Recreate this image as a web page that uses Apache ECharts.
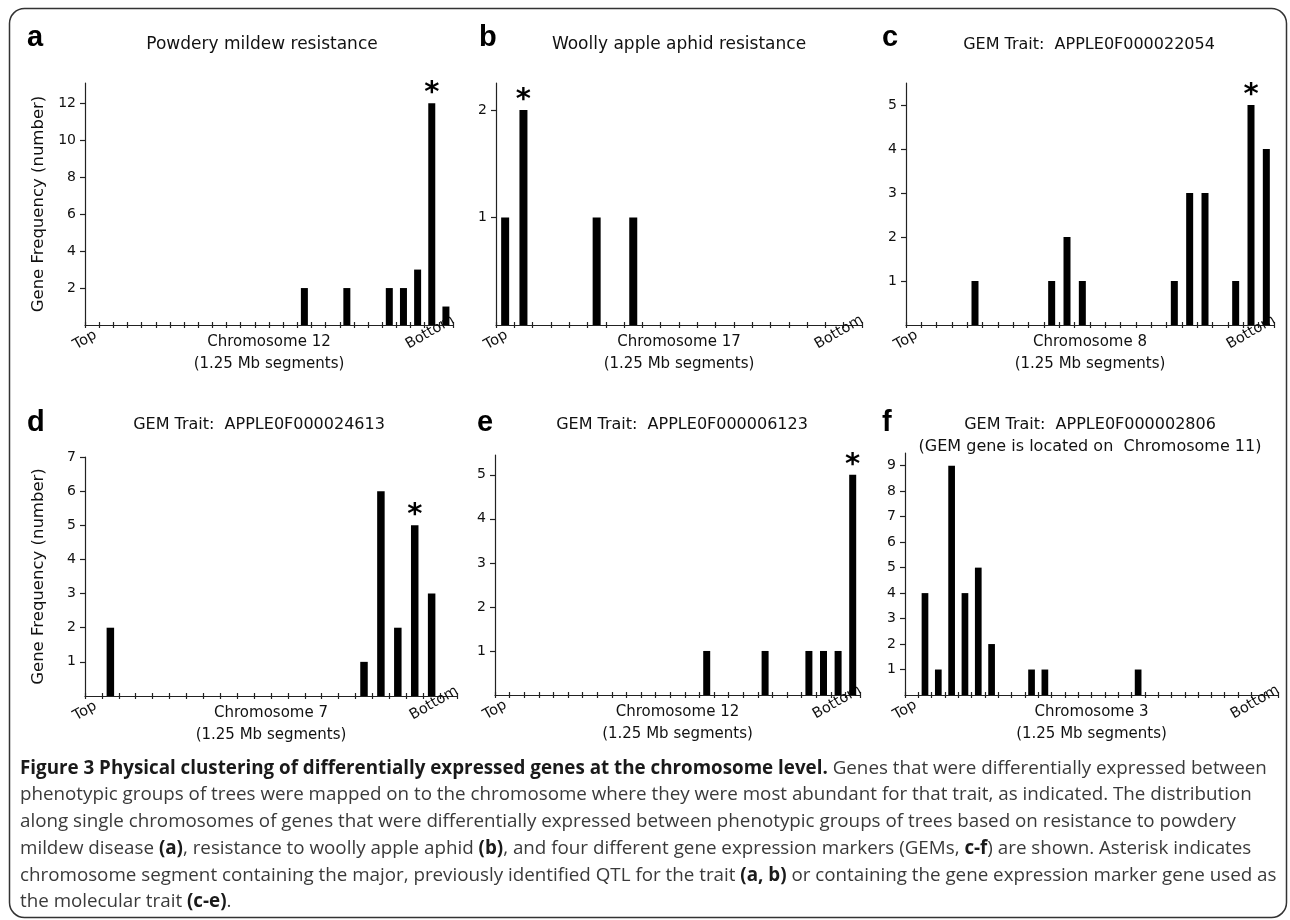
<!DOCTYPE html>
<html><head><meta charset="utf-8">
<script src="https://cdn.jsdelivr.net/npm/echarts@6/dist/echarts.min.js"></script>
<style>html,body{margin:0;padding:0;background:#fff}#c{width:1290px;height:920px}</style>
</head><body><div id="c"></div>
<script>
// ---------- DATA ----------
const valuesA = [0,0,0,0,0,0,0,0,0,0,0,0,0,0,0,2,0,0,2,0,0,2,2,3,12,1];
const valuesB = [1,2,0,0,0,1,0,1,0,0,0,0,0,0,0,0,0,0,0,0];
const valuesC = [0,0,0,0,1,0,0,0,0,1,2,1,0,0,0,0,0,1,3,3,0,1,5,4];
const valuesD = [0,2,0,0,0,0,0,0,0,0,0,0,0,0,0,0,1,6,2,5,3,0];
const valuesE = [0,0,0,0,0,0,0,0,0,0,0,0,0,0,1,0,0,0,1,0,0,1,1,1,5];
const valuesF = [0,4,1,9,4,5,2,0,0,1,1,0,0,0,0,0,0,1,0,0,0,0,0,0,0,0,0,0];
const starA = 24, starB = 1, starC = 22, starD = 19, starE = 24, starF = -1;
const yTicksA = [2,4,6,8,10,12];
const yTicksB = [1,2];
const yTicksC = [1,2,3,4,5];
const yTicksD = [1,2,3,4,5,6,7];
const yTicksE = [1,2,3,4,5];
const yTicksF = [1,2,3,4,5,6,7,8,9];
const topLabel = 'Top', bottomLabel = 'Bottom';
const segLabel = '(1.25 Mb segments)';
const yAxisName = 'Gene Frequency (number)';
const titlesA = ['Powdery mildew resistance'];
const titlesB = ['Woolly apple aphid resistance'];
const titlesC = ['GEM Trait:  APPLE0F000022054'];
const titlesD = ['GEM Trait:  APPLE0F000024613'];
const titlesE = ['GEM Trait:  APPLE0F000006123'];
const titlesF = ['GEM Trait:  APPLE0F000002806', '(GEM gene is located on  Chromosome 11)'];
const chromA = 'Chromosome 12', chromB = 'Chromosome 17', chromC = 'Chromosome 8',
      chromD = 'Chromosome 7', chromE = 'Chromosome 12', chromF = 'Chromosome 3';

// ---------- LAYOUT ----------
const F = '"DejaVu Sans", sans-serif';
const AX = '#222', TX = '#111';
const panels = [
  {letter:'a', lx:27, ly:38, titles:titlesA, tx:262, ty:45, ts:17, chrom:chromA, values:valuesA, star:starA, yTicks:yTicksA, g:[85,83,368,242], ymax:13.1, bw:7, yName:true},
  {letter:'b', lx:479, ly:38, titles:titlesB, tx:679, ty:45, ts:17, chrom:chromB, values:valuesB, star:starB, yTicks:yTicksB, g:[496,83,366,242], ymax:2.25, bw:8, yName:false},
  {letter:'c', lx:882, ly:38, titles:titlesC, tx:1089, ty:45, ts:16, chrom:chromC, values:valuesC, star:starC, yTicks:yTicksC, g:[906,83,368,242], ymax:5.5, bw:7, yName:false},
  {letter:'d', lx:27, ly:423, titles:titlesD, tx:259, ty:425, ts:16, chrom:chromD, values:valuesD, star:starD, yTicks:yTicksD, g:[85,457,372,239], ymax:7, bw:7.5, yName:true},
  {letter:'e', lx:477, ly:423, titles:titlesE, tx:682, ty:425, ts:16, chrom:chromE, values:valuesE, star:starE, yTicks:yTicksE, g:[495,455,365,240], ymax:5.45, bw:7, yName:false},
  {letter:'f', lx:882, ly:423, titles:titlesF, tx:1090, ty:425, ts:16, chrom:chromF, values:valuesF, star:starF, yTicks:yTicksF, g:[905,453,373,242], ymax:9.5, bw:6.7, yName:false}
];

const captionText =
'{b|Figure 3 Physical clustering of differentially expressed genes at the chromosome level.} Genes that were differentially expressed between\n' +
'phenotypic groups of trees were mapped on to the chromosome where they were most abundant for that trait, as indicated. The distribution\n' +
'along single chromosomes of genes that were differentially expressed between phenotypic groups of trees based on resistance to powdery\n' +
'mildew disease {b|(a)}, resistance to woolly apple aphid {b|(b)}, and four different gene expression markers (GEMs, {b|c-f}) are shown. Asterisk indicates\n' +
'chromosome segment containing the major, previously identified QTL for the trait {b|(a, b)} or containing the gene expression marker gene used as\n' +
'the molecular trait {b|(c-e)}.';

const grid = [], xAxis = [], yAxis = [], series = [], graphic = [];
graphic.push({type:'rect', silent:true, shape:{x:9.5, y:8.5, width:1277, height:909, r:15},
  style:{fill:'none', stroke:'#333', lineWidth:1.5}});

panels.forEach((p, i) => {
  grid.push({left:p.g[0], top:p.g[1], width:p.g[2], height:p.g[3], containLabel:false, outerBoundsMode:'none'});
  const n = p.values.length;
  const cats = Array.from({length:n}, (_, k) => String(k + 1));
  const xi = xAxis.length;
  xAxis.push({gridIndex:i, type:'category', data:cats, position:'bottom', boundaryGap:true,
    axisLine:{show:true, onZero:false, lineStyle:{color:AX, width:1.2}},
    axisTick:{show:true, inside:false, length:3, interval:0, lineStyle:{color:AX, width:1.2}},
    axisLabel:{show:false}, splitLine:{show:false},
    name:p.chrom + '\n' + segLabel, nameLocation:'middle', nameGap:6, nameMoveOverlap:false,
    nameTextStyle:{fontFamily:F, fontSize:15, color:TX, lineHeight:22}});
  xAxis.push({gridIndex:i, type:'category', data:cats, position:'bottom', boundaryGap:true,
    axisLine:{show:false, onZero:false},
    axisTick:{show:true, inside:true, length:3, interval:0, lineStyle:{color:AX, width:1.2}},
    axisLabel:{show:false}, splitLine:{show:false}});
  xAxis.push({gridIndex:i, type:'value', min:0, max:n, interval:n, position:'bottom',
    axisLine:{show:false, onZero:false}, axisTick:{show:false}, splitLine:{show:false},
    axisLabel:{show:true, rotate:30, align:'center', verticalAlign:'middle', margin:15,
      showMinLabel:true, showMaxLabel:true,
      formatter:v => v === 0 ? topLabel : '', fontFamily:F, fontSize:14.5, color:TX}});
  xAxis.push({gridIndex:i, type:'value', min:0, max:n, interval:n, position:'bottom',
    axisLine:{show:false, onZero:false}, axisTick:{show:false}, splitLine:{show:false},
    axisLabel:{show:true, rotate:30, align:'right', verticalAlign:'middle', margin:-6,
      showMinLabel:true, showMaxLabel:true,
      formatter:v => v === n ? bottomLabel : '', fontFamily:F, fontSize:14.5, color:TX}});
  const ya = {gridIndex:i, type:'value', min:0, max:p.ymax,
    axisLine:{show:true, onZero:false, lineStyle:{color:AX, width:1.2}},
    axisTick:{show:true, length:5, customValues:p.yTicks, lineStyle:{color:AX, width:1.2}},
    axisLabel:{show:true, customValues:p.yTicks, margin:9, fontFamily:F, fontSize:14, color:TX},
    splitLine:{show:false}};
  if (p.yName) {
    Object.assign(ya, {name:yAxisName, nameLocation:'middle', nameGap:38, nameMoveOverlap:false,
      nameTextStyle:{fontFamily:F, fontSize:16.5, color:TX}});
  }
  yAxis.push(ya);
  series.push({type:'bar', xAxisIndex:xi, yAxisIndex:i, barWidth:p.bw, silent:true,
    itemStyle:{color:'#000'},
    data:p.values.map((v, k) => k === p.star
      ? {value:v, label:{show:true, formatter:'*', position:'top', distance:-5,
         fontFamily:F, fontSize:29, fontWeight:'bold', color:'#000'}}
      : v)});
  graphic.push({type:'text', silent:true, style:{text:p.letter, x:p.lx, y:p.ly,
    font:'bold 29px "Liberation Sans", Arial, sans-serif', fill:'#000',
    align:'left', verticalAlign:'middle', textAlign:'left', textVerticalAlign:'middle'}});
  p.titles.forEach((t, j) => {
    graphic.push({type:'text', silent:true, style:{text:t, x:p.tx, y:p.ty + j * 22,
      font:p.ts + 'px "DejaVu Sans", sans-serif', fill:TX,
      align:'center', verticalAlign:'middle', textAlign:'center', textVerticalAlign:'middle'}});
  });
});

graphic.push({type:'text', silent:true, style:{text:captionText, x:20, y:755,
  fontFamily:'"Open Sans", sans-serif', fontSize:18.8, lineHeight:26.7, fill:'#3a3a3a',
  align:'left', verticalAlign:'top', textAlign:'left', textVerticalAlign:'top',
  rich:{b:{fontFamily:'"Open Sans", sans-serif', fontSize:18.8, lineHeight:26.7, fontWeight:'bold', fill:'#1a1a1a'}}}});

const chart = echarts.init(document.getElementById('c'), null, {renderer:'canvas'});
chart.setOption({animation:false, backgroundColor:'#fff', grid, xAxis, yAxis, series, graphic});
</script>
</body></html>
